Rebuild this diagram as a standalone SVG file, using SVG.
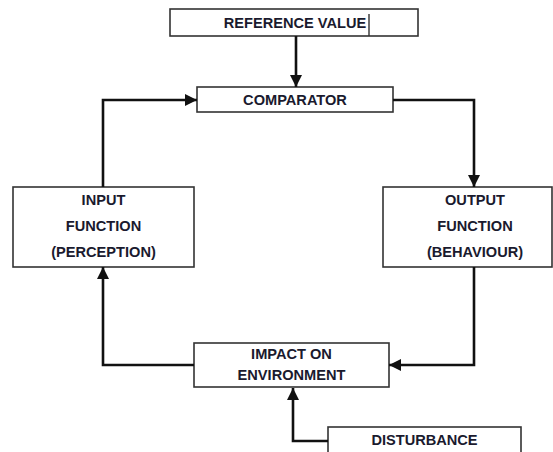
<svg xmlns="http://www.w3.org/2000/svg" width="553" height="452" viewBox="0 0 553 452">
<style>
.box{fill:#fff;stroke:#333;stroke-width:1.6}
.t{font-family:"Liberation Sans",Arial,sans-serif;font-weight:bold;font-size:14.6px;fill:#1a1a2e;text-anchor:middle}
.c{fill:none;stroke:#111;stroke-width:2.6}
</style>
<defs>
<marker id="ah" markerUnits="userSpaceOnUse" markerWidth="12" markerHeight="12" viewBox="0 0 12 12" refX="12" refY="6" orient="auto">
<path d="M0,0 L12,6 L0,12 Z" fill="#111"/>
</marker>
</defs>
<rect width="553" height="452" fill="#fff"/>
<g id="reference">
<rect class="box" x="170" y="9" width="248" height="27"/>
<line x1="369" y1="14" x2="369" y2="36" stroke="#333" stroke-width="1.4"/>
<text class="t" x="295" y="28">REFERENCE VALUE</text>
</g>
<g id="comparator">
<rect class="box" x="197" y="87" width="196" height="25"/>
<text class="t" x="295" y="105">COMPARATOR</text>
</g>
<g id="input">
<rect class="box" x="13" y="187" width="181" height="80"/>
<text class="t" x="103.5" y="205">INPUT</text>
<text class="t" x="103.5" y="231">FUNCTION</text>
<text class="t" x="103.5" y="257">(PERCEPTION)</text>
</g>
<g id="output">
<rect class="box" x="383" y="187" width="169" height="80"/>
<text class="t" x="475" y="205">OUTPUT</text>
<text class="t" x="475" y="231">FUNCTION</text>
<text class="t" x="475" y="257">(BEHAVIOUR)</text>
</g>
<g id="impact">
<rect class="box" x="194" y="343" width="195" height="44"/>
<text class="t" x="291.5" y="359">IMPACT ON</text>
<text class="t" x="291.5" y="380">ENVIRONMENT</text>
</g>
<g id="disturbance">
<rect class="box" x="328" y="427" width="193" height="40"/>
<text class="t" x="424.5" y="445">DISTURBANCE</text>
</g>
<g id="connectors">
<path class="c" d="M296,36 V87" marker-end="url(#ah)"/>
<path class="c" d="M393,100 H474 V187" marker-end="url(#ah)"/>
<path class="c" d="M474,267 V365 H389" marker-end="url(#ah)"/>
<path class="c" d="M194,365 H103 V267" marker-end="url(#ah)"/>
<path class="c" d="M103,187 V100 H197" marker-end="url(#ah)"/>
<path class="c" d="M328,441 H293 V388" marker-end="url(#ah)"/>
</g>
</svg>
